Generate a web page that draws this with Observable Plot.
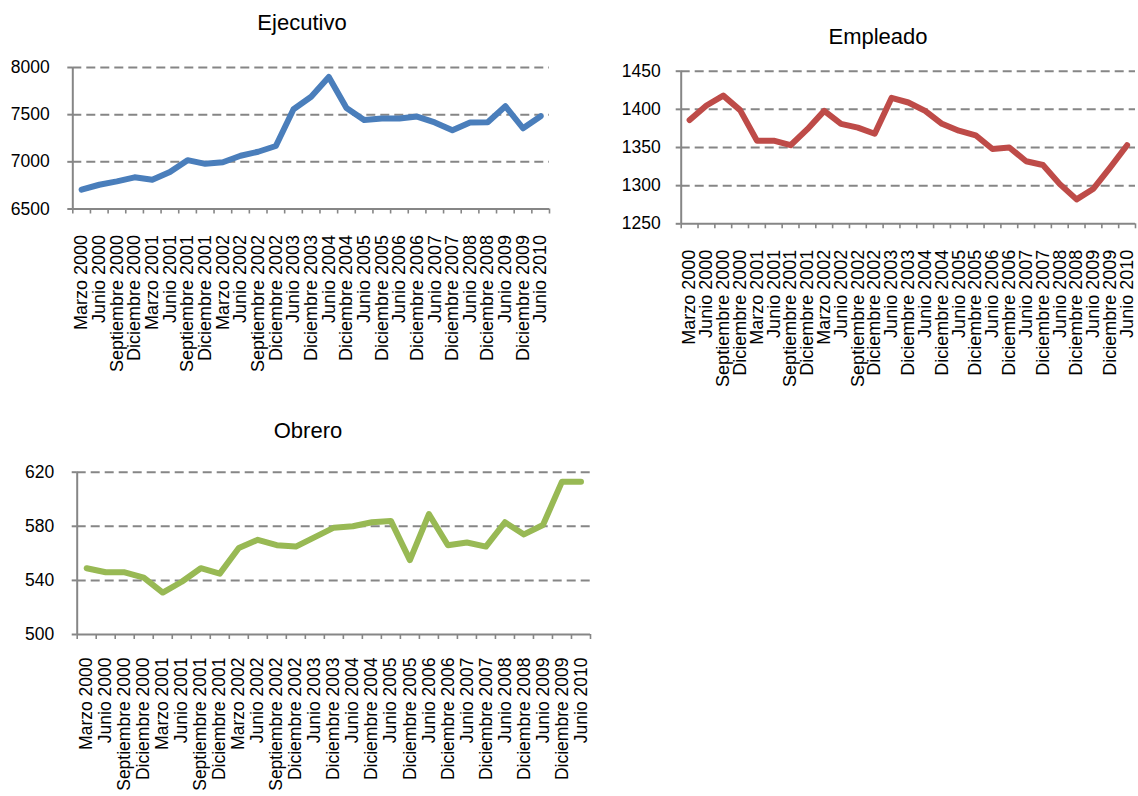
<!DOCTYPE html>
<html><head><meta charset="utf-8">
<script src="https://cdn.jsdelivr.net/npm/d3@7"></script>
<script src="https://cdn.jsdelivr.net/npm/@observablehq/plot@0.6"></script>
<style>
body{margin:0;background:#fff;font-family:"Liberation Sans",Arial,sans-serif;}
#root{position:relative;width:1138px;height:796px;overflow:hidden;background:#fff;}
.panel{position:absolute;}
.title{position:absolute;font-size:22px;line-height:22px;text-align:center;color:#000;white-space:nowrap;width:300px;}
</style></head><body><div id="root"></div>
<script>
const periodos = ["Marzo 2000","Junio 2000","Septiembre 2000","Diciembre 2000","Marzo 2001","Junio 2001","Septiembre 2001","Diciembre 2001","Marzo 2002","Junio 2002","Septiembre 2002","Diciembre 2002","Junio 2003","Diciembre 2003","Junio 2004","Diciembre 2004","Junio 2005","Diciembre 2005","Junio 2006","Diciembre 2006","Junio 2007","Diciembre 2007","Junio 2008","Diciembre 2008","Junio 2009","Diciembre 2009","Junio 2010"];
const ejecutivo = [6705,6757,6793,6836,6811,6893,7018,6979,6996,7065,7107,7168,7557,7690,7900,7570,7443,7460,7460,7480,7418,7336,7418,7420,7590,7356,7484];
const empleado = [1386,1405,1418,1399,1359,1359,1353,1374,1398,1381,1376,1368,1415,1409,1398,1381,1372,1366,1348,1350,1332,1327,1302,1282,1296,1324,1353];
const obrero = [549,546,546,542,531,539,549,545,564,570,566,565,572,579,580,583,584,555,589,566,568,565,583,574,581,613,613];
const ticksEjecutivo = [6500,7000,7500,8000];
const ticksEmpleado = [1250,1300,1350,1400,1450];
const ticksObrero = [500,540,580,620];
const titulos = ["Ejecutivo","Empleado","Obrero"];
const colores = ["#4A7EBB","#BE4B48","#98B954"];

const GRAY = "#868686";
const FS = 17.5;
const root = document.getElementById("root");

function panel(valores, ticks, color, titulo, box, tbox) {
  const n = periodos.length;
  const data = valores.map((v, i) => ({i: i + 0.5, periodo: periodos[i], v}));
  const plot = Plot.plot({
    width: box.width, height: box.height,
    marginLeft: box.ml, marginRight: box.mr, marginTop: box.mt, marginBottom: box.mb,
    style: {fontFamily: "'Liberation Sans', Arial, sans-serif", fontSize: FS + "px", color: "#000", background: "transparent", overflow: "visible"},
    x: {type: "linear", domain: [0, n], axis: null, label: null},
    y: {domain: [ticks[0], ticks[ticks.length - 1]], axis: null, label: null},
    marks: [
      Plot.gridY(ticks.slice(1), {stroke: GRAY, strokeOpacity: 1, strokeWidth: 2, strokeDasharray: "9,5"}),
      Plot.axisY(ticks, {tickSize: 5, tickPadding: box.pad, stroke: GRAY, strokeWidth: 2, fill: "#000", fontSize: FS, tickFormat: d => String(d), label: null}),
      Plot.axisX(d3.range(n + 1), {tickSize: 5, tickFormat: () => "", stroke: GRAY, strokeWidth: 1.6, label: null}),
      Plot.axisX(data.map(d => d.i), {tickSize: 0, tickPadding: box.xpad, tickRotate: -90, tickFormat: d => periodos[Math.floor(d)], fill: "#000", fontSize: box.fsx, label: null}),
      Plot.ruleX([0], {stroke: GRAY, strokeWidth: 2}),
      Plot.ruleY([ticks[0]], {stroke: GRAY, strokeWidth: 2}),
      Plot.line(data, {x: "i", y: "v", stroke: color, strokeWidth: 6, strokeLinejoin: "round", strokeLinecap: "round"})
    ]
  });
  plot.classList.add("panel");
  plot.style.left = box.left + "px";
  plot.style.top = box.top + "px";
  root.appendChild(plot);
  const t = document.createElement("div");
  t.className = "title";
  t.textContent = titulo;
  t.style.left = (tbox.cx - 150) + "px";
  t.style.top = (tbox.baseline - 18.6) + "px";
  root.appendChild(t);
}

panel(ejecutivo, ticksEjecutivo, colores[0], titulos[0],
  {left: 0, top: 0, width: 570, height: 400, ml: 72.3, mr: 21, mt: 67, mb: 191.5, pad: 18, xpad: 26, fsx: 18},
  {cx: 302, baseline: 31});
panel(empleado, ticksEmpleado, colores[1], titulos[1],
  {left: 600, top: 0, width: 538, height: 410, ml: 80.7, mr: 3, mt: 70.7, mb: 186.7, pad: 15.5, xpad: 26, fsx: 18},
  {cx: 878, baseline: 45});
panel(obrero, ticksObrero, colores[2], titulos[2],
  {left: 0, top: 400, width: 610, height: 396, ml: 76.7, mr: 20, mt: 71.7, mb: 162, pad: 18, xpad: 23, fsx: 17.5},
  {cx: 308, baseline: 439});
</script></body></html>
